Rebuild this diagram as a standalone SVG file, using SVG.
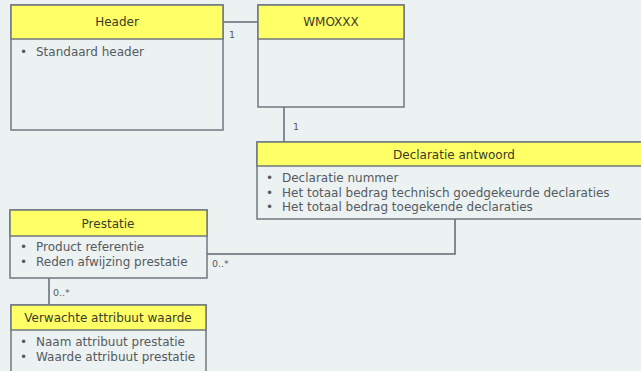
<svg xmlns="http://www.w3.org/2000/svg" width="641" height="371" viewBox="0 0 641 371">
<style>
.box{fill:#ECF1F2;stroke:#6F7880;stroke-width:1.5}
.band{fill:#FFFF66;stroke:#6F7880;stroke-width:1.5}
.t{font-family:"DejaVu Sans",Verdana,sans-serif;font-size:12px;fill:#4A4A3A}
.h{text-anchor:middle;fill:#3C3C2C}
.i{fill:#555B60}
.c{fill:none;stroke:#5F6870;stroke-width:1.5}
.l{font-family:"DejaVu Sans",Verdana,sans-serif;font-size:9.5px;fill:#555B60}
</style>
<rect width="641" height="371" fill="#ECF1F2"/>
<g id="connectors">
<path class="c" d="M223 22H258"/>
<text class="l" x="229" y="38">1</text>
<path class="c" d="M284 107V142"/>
<text class="l" x="293" y="130">1</text>
<path class="c" d="M455 219V254H207"/>
<text class="l" x="212" y="267">0..*</text>
<path class="c" d="M49 278V305"/>
<text class="l" x="53" y="296">0..*</text>
</g>
<g id="header">
<rect class="box" x="11" y="5" width="212" height="125"/>
<rect class="band" x="11" y="5" width="212" height="34"/>
<text class="t h" x="117" y="26">Header</text>
<text class="t i" x="20" y="56">•</text>
<text class="t i" x="36" y="56">Standaard header</text>
</g>
<g id="wmoxxx">
<rect class="box" x="258" y="5" width="146" height="102"/>
<rect class="band" x="258" y="5" width="146" height="34"/>
<text class="t h" x="331" y="26">WMOXXX</text>
</g>
<g id="declaratie">
<rect class="box" x="257" y="142" width="394" height="77"/>
<rect class="band" x="257" y="142" width="394" height="24"/>
<text class="t h" x="454" y="158.5">Declaratie antwoord</text>
<text class="t i" x="266" y="182">•</text>
<text class="t i" x="282" y="182">Declaratie nummer</text>
<text class="t i" x="266" y="196.5">•</text>
<text class="t i" x="282" y="196.5">Het totaal bedrag technisch goedgekeurde declaraties</text>
<text class="t i" x="266" y="211">•</text>
<text class="t i" x="282" y="211">Het totaal bedrag toegekende declaraties</text>
</g>
<g id="prestatie">
<rect class="box" x="10" y="210" width="197" height="68"/>
<rect class="band" x="10" y="210" width="197" height="26"/>
<text class="t h" x="108" y="227.5">Prestatie</text>
<text class="t i" x="20" y="251">•</text>
<text class="t i" x="36" y="251">Product referentie</text>
<text class="t i" x="20" y="265.5">•</text>
<text class="t i" x="36" y="265.5">Reden afwijzing prestatie</text>
</g>
<g id="verwachte">
<rect class="box" x="11" y="305" width="195" height="80"/>
<rect class="band" x="11" y="305" width="195" height="25"/>
<text class="t h" x="108" y="322">Verwachte attribuut waarde</text>
<text class="t i" x="20" y="346">•</text>
<text class="t i" x="36" y="346">Naam attribuut prestatie</text>
<text class="t i" x="20" y="360.5">•</text>
<text class="t i" x="36" y="360.5">Waarde attribuut prestatie</text>
</g>
</svg>
